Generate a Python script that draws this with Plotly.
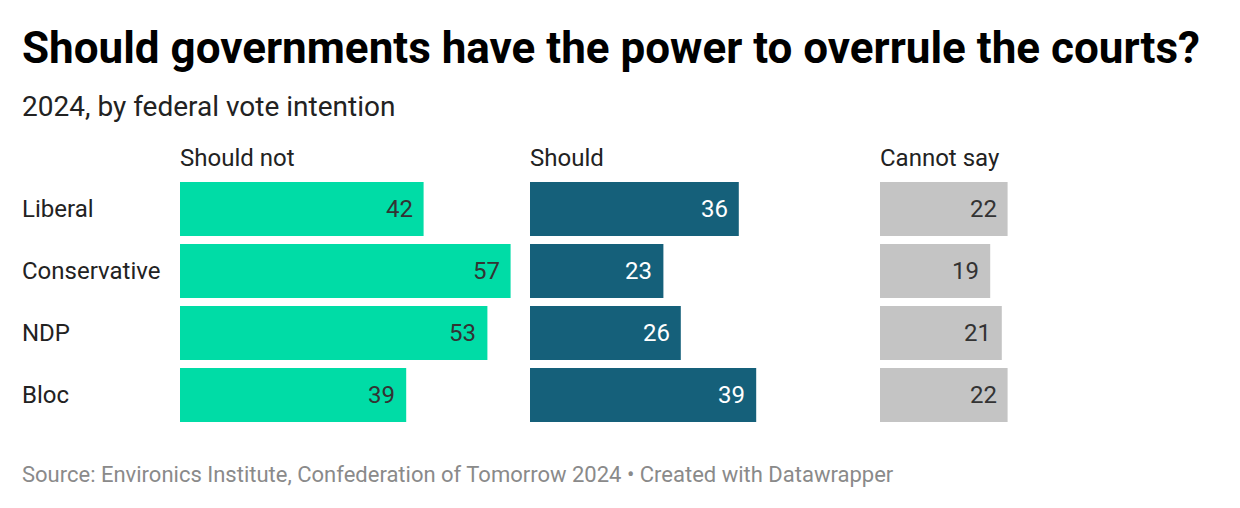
import plotly.graph_objects as go

parties = ["Liberal", "Conservative", "NDP", "Bloc"]
should_not = [42, 57, 53, 39]
should = [36, 23, 26, 39]
cannot_say = [22, 19, 21, 22]
columns = ["Should not", "Should", "Cannot say"]
colors = ["#00dca6", "#15607a", "#c4c4c4"]
text_colors = ["#333333", "#ffffff", "#333333"]

W, H = 1240, 508
OFF = 8  # page offset of the figure
starts = [180 - OFF, 530 - OFF, 880 - OFF]
col_w = 348
plot_top = 178 - OFF
plot_bot = 426 - OFF
ph = plot_bot - plot_top


def py(ypx):
    # screenshot pixel y -> paper coordinate
    return (plot_bot - (ypx - OFF)) / ph


def px(xpx):
    return (xpx - OFF) / W


fig = go.Figure()
series = [should_not, should, cannot_say]
axes = ["x", "x2", "x3"]
for i, vals in enumerate(series):
    fig.add_trace(go.Bar(
        y=parties, x=vals, orientation="h", xaxis=axes[i], yaxis="y",
        marker=dict(color=colors[i], line=dict(width=0)),
        hoverinfo="skip",
    ))

layout = dict(
    width=W, height=H,
    margin=dict(l=0, r=0, t=plot_top, b=H - plot_bot),
    paper_bgcolor="white", plot_bgcolor="white",
    showlegend=False, bargap=8/62,
    font=dict(family="Roboto", color="#222222"),
    yaxis=dict(categoryorder="array", categoryarray=parties[::-1],
               range=[-0.5, 3.5], showticklabels=False, showgrid=False,
               zeroline=False, fixedrange=True),
)
for i in range(3):
    key = "xaxis" if i == 0 else f"xaxis{i+1}"
    d = dict(domain=[starts[i]/W, (starts[i]+col_w)/W], range=[0, 60],
             showticklabels=False, showgrid=False, zeroline=False,
             fixedrange=True)
    if i > 0:
        d["anchor"] = "y"
    layout[key] = d
fig.update_layout(**layout)

ann = []
ann.append(dict(text="<b>Should governments have the power to overrule the courts?</b>",
                x=px(20), y=py(48), xref="paper", yref="paper", xanchor="left", yanchor="middle",
                showarrow=False, font=dict(family="Roboto", size=44, color="#000000")))
ann.append(dict(text="2024, by federal vote intention",
                x=px(20), y=py(106), xref="paper", yref="paper", xanchor="left", yanchor="middle",
                showarrow=False, font=dict(family="Roboto", size=28, color="#222222")))
for i, c in enumerate(columns):
    ann.append(dict(text=c, x=(starts[i]-2)/W, y=py(158), xref="paper", yref="paper",
                    xanchor="left", yanchor="middle", showarrow=False,
                    font=dict(family="Roboto", size=24, color="#222222")))
for p in parties:
    ann.append(dict(text=p, x=px(20), y=p, xref="paper", yref="y",
                    xanchor="left", yanchor="middle", showarrow=False,
                    font=dict(family="Roboto", size=24, color="#222222")))
for i, vals in enumerate(series):
    for p, v in zip(parties, vals):
        ann.append(dict(text=str(v), x=v, y=p, xref=axes[i], yref="y",
                        xanchor="right", yanchor="middle", xshift=-9, showarrow=False,
                        font=dict(family="Roboto", size=24, color=text_colors[i])))
ann.append(dict(text="Source: Environics Institute, Confederation of Tomorrow 2024 • Created with Datawrapper",
                x=px(20), y=py(474), xref="paper", yref="paper", xanchor="left", yanchor="middle",
                showarrow=False, font=dict(family="Roboto", size=22, color="#8a8a8a")))
fig.update_layout(annotations=ann)

fig.write_html("out.html")
